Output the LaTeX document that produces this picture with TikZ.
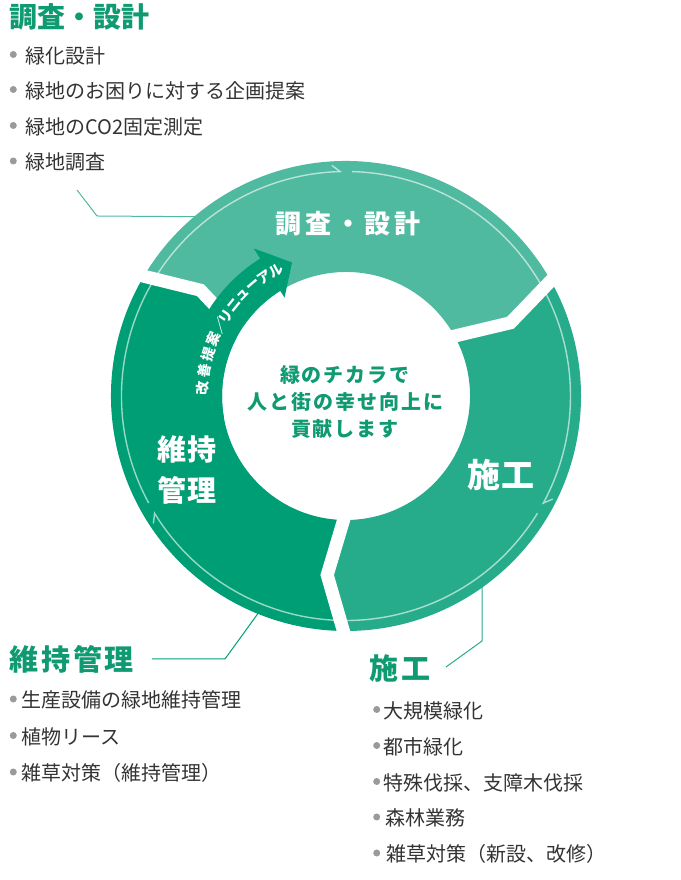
\documentclass[tikz,border=0pt]{standalone}
\usepackage{fontspec}
\setmainfont{Noto Sans CJK JP}
\newfontfamily\jpls{Noto Sans CJK JP}[LetterSpace=10]
\newfontfamily\jplsa{Noto Sans CJK JP}[LetterSpace=5]
\newfontfamily\jplsb{Noto Sans CJK JP}[LetterSpace=14]
\usetikzlibrary{calc}
\definecolor{topc}{HTML}{50BAA1}
\definecolor{rightc}{HTML}{27AC8B}
\definecolor{leftc}{HTML}{009E74}
\definecolor{headc}{HTML}{0F9A71}
\definecolor{txtc}{HTML}{333333}
\definecolor{bulc}{HTML}{9A9A9A}
\begin{document}
\begin{tikzpicture}[x=1pt,y=1pt,
  listtxt/.style={anchor=west,inner sep=0pt,text=txtc,font=\fontsize{20}{24}\selectfont},
  bul/.style={circle,fill=bulc,inner sep=0pt,minimum size=7pt},
  headtxt/.style={anchor=west,inner sep=0pt,text=headc},
  leader/.style={line width=1pt},
  ringline/.style={draw=white,draw opacity=0.6,line width=1.4pt,line join=miter},
  gapline/.style={draw=white,line width=13pt,line join=miter},
  arrtxt/.style={text=white,inner sep=0pt,font=\bfseries\fontsize{14}{14}\selectfont},
  seglabel/.style={text=white,inner sep=0pt,align=center}
]
\useasboundingbox (0,0) rectangle (680,880);
\coordinate (C) at (346,484);

% ring
\begin{scope}[shift={(C)}]
  \fill[topc] (30:124pt) -- (24:180pt) -- (30:235pt) arc[start angle=30,end angle=150,radius=235pt]
     -- (144:180pt) -- (150:124pt) arc[start angle=150,end angle=30,radius=124pt] -- cycle;
  \fill[rightc] (-90:124pt) -- (-96:180pt) -- (-90:235pt) arc[start angle=-90,end angle=30,radius=235pt]
     -- (24:180pt) -- (30:124pt) arc[start angle=30,end angle=-90,radius=124pt] -- cycle;
  \fill[leftc] (150:124pt) -- (144:180pt) -- (150:235pt) arc[start angle=150,end angle=270,radius=235pt]
     -- (264:180pt) -- (270:124pt) arc[start angle=270,end angle=150,radius=124pt] -- cycle;
  % thin cycle line
  \draw[ringline] (208.5:224.5pt) arc[start angle=208.5,end angle=91.5,radius=224.5pt] -- (93.5:231pt);
  \draw[ringline] (88.5:224.5pt) arc[start angle=88.5,end angle=-28.5,radius=224.5pt] -- (-26.5:231pt);
  \draw[ringline] (-31.5:224.5pt) arc[start angle=-31.5,end angle=-148.5,radius=224.5pt] -- (-146.5:231pt);
  % gaps
  \draw[gapline] (30:116pt) -- (24:180pt) -- (30:244pt);
  \draw[gapline] (150:116pt) -- (144:180pt) -- (150:244pt);
  \draw[gapline] (270:116pt) -- (264:180pt) -- (270:244pt);
  % curved arrow
  \fill[leftc] (190:124pt) arc[start angle=190,end angle=122,radius=124pt] -- (122:116pt) -- (112:144pt)
     -- (122:174pt) -- (122:162pt) arc[start angle=122,end angle=190,radius=162pt] -- cycle;
\end{scope}

\foreach \ang/\ch [count=\i] in {177/改,170/善,163.3/提,156.8/案,150.7/／,146.6/リ,141/ニ,135.5/ュ,130/ー,124.6/ア,119.2/ル}{
  \node[arrtxt,rotate=\ang-90] (a\i) at ($(C)+(\ang:144pt)$) {\ch};
}

% segment labels
\node[seglabel,font=\jplsb\bfseries\fontsize{26}{30}\selectfont] (s1) at (348,656) {調査・設計};
\node[seglabel,font=\jplsa\bfseries\fontsize{33}{36}\selectfont] (s2) at (501,405) {施工};
\node[seglabel,font=\jplsa\bfseries\fontsize{29}{40.5}\selectfont] (s3) at (187,410) {維持\\管理};

% center text
\node[text=headc,align=center,inner sep=0pt,font=\jpls\bfseries\fontsize{20}{26.7}\selectfont] (ctr) at (345,478)
  {緑のチカラで\\人と街の幸せ向上に\\貢献します};

% headings
\node[headtxt,font=\bfseries\fontsize{28}{30}\selectfont] (h1) at (9,863.5) {調査・設計};
\node[headtxt,font=\jpls\bfseries\fontsize{29}{32}\selectfont] (h2) at (9,221) {維持管理};
\node[headtxt,font=\jpls\bfseries\fontsize{29}{32}\selectfont] (h3) at (369,212) {施工};

% top-left list
\node[bul] (b11) at (13.3,825.5) {};
\node[listtxt] (t11) at (25.5,824.3) {緑化設計};
\node[bul] (b12) at (13.3,790.5) {};
\node[listtxt] (t12) at (25.5,789.3) {緑地のお困りに対する企画提案};
\node[bul] (b13) at (13.3,754.5) {};
\node[listtxt] (t13) at (25.5,753.3) {緑地のCO2固定測定};
\node[bul] (b14) at (13.3,719) {};
\node[listtxt] (t14) at (25.5,717.7) {緑地調査};

% maintenance list
\node[bul] (b21) at (13.3,181) {};
\node[listtxt] (t21) at (21,180) {生産設備の緑地維持管理};
\node[bul] (b22) at (13.3,144.5) {};
\node[listtxt] (t22) at (21,143.3) {植物リース};
\node[bul] (b23) at (13.3,108) {};
\node[listtxt] (t23) at (21,106.7) {雑草対策（維持管理）};

% construction list
\node[bul] (b31) at (376.7,170.5) {};
\node[listtxt] (t31) at (383.5,169.3) {大規模緑化};
\node[bul] (b32) at (376.7,134.5) {};
\node[listtxt] (t32) at (383.5,133.3) {都市緑化};
\node[bul] (b33) at (376.7,98.5) {};
\node[listtxt] (t33) at (383.5,97.3) {特殊伐採、支障木伐採};
\node[bul] (b34) at (376.7,63) {};
\node[listtxt] (t34) at (385.5,61.7) {森林業務};
\node[bul] (b35) at (376.7,27) {};
\node[listtxt] (t35) at (386.5,25.7) {雑草対策（新設、改修）};

% leaders
\coordinate (L1a) at (77,690);
\coordinate (L1b) at (97,664);
\coordinate (L1c) at ($(C)+(130:234pt)$);
\draw[leader,topc] (L1a) -- (L1b) -- (L1c);
\coordinate (L2a) at (152,221);
\coordinate (L2b) at (225,221);
\coordinate (L2c) at ($(C)+(248:234pt)$);
\draw[leader,leftc] (L2a) -- (L2b) -- (L2c);
\coordinate (L3a) at (446,213);
\coordinate (L3b) at (482,239);
\coordinate (L3c) at (482,293);
\draw[leader,rightc] (L3a) -- (L3b) -- (L3c);
\end{tikzpicture}
\end{document}
